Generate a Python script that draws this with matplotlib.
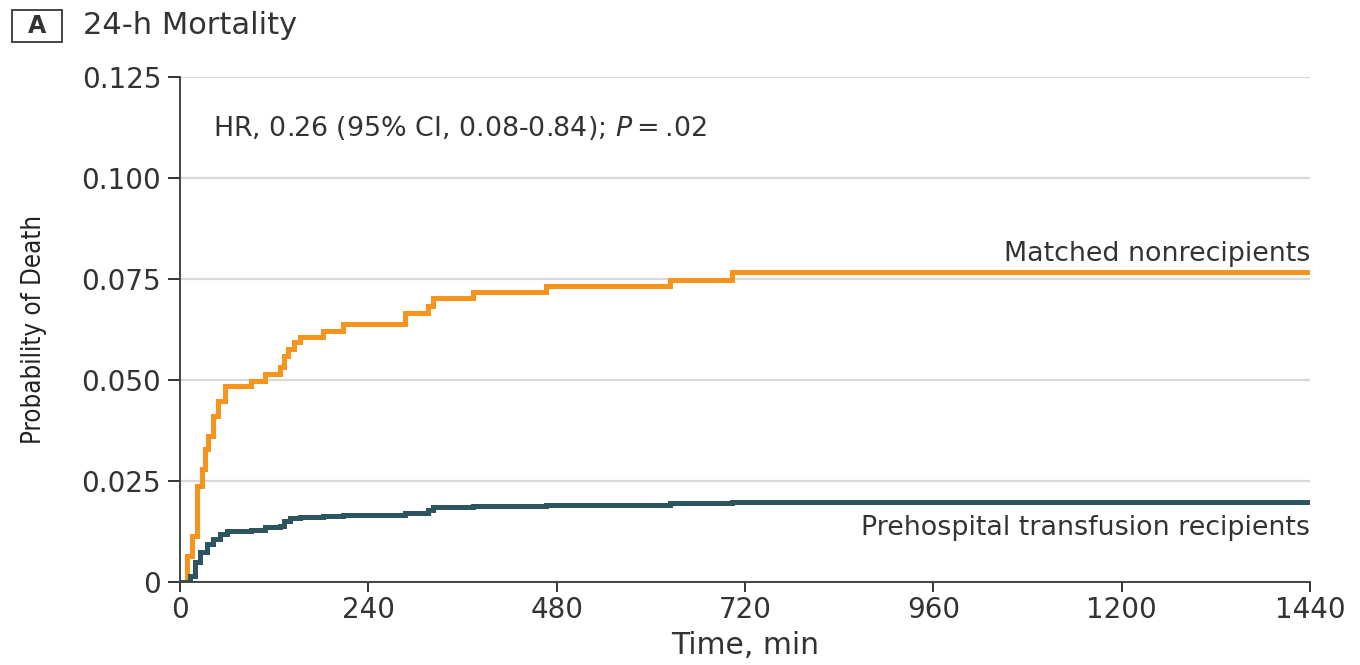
import matplotlib.pyplot as plt
from matplotlib import font_manager
from matplotlib.patches import Rectangle

# step times (min) and cumulative probability of death
t_nonrec = [0, 3, 8.5, 15, 21, 27.6, 31.8, 36, 42.5, 48.8, 57.3, 91, 108, 127, 133,
            138, 145, 153, 182.6, 208, 286.6, 316, 322.5, 373.5, 467, 624, 703, 1440]
p_nonrec = [0, 0, 0.0065, 0.0115, 0.0238, 0.028, 0.033, 0.0362, 0.041, 0.0449, 0.0486,
            0.0498, 0.0515, 0.0531, 0.056, 0.0577, 0.0593, 0.0606, 0.0622, 0.0639,
            0.0666, 0.0684, 0.0702, 0.0717, 0.0732, 0.0748, 0.0768, 0.0768]

t_recip = [0, 3, 12.7, 19, 25.5, 34, 42.5, 51, 59.4, 91, 108, 127, 133, 140, 153,
           182.6, 208, 286.6, 316, 322.5, 373.5, 467, 624, 703, 1440]
p_recip = [0, 0, 0.0016, 0.005, 0.0074, 0.0094, 0.0106, 0.0119, 0.0127, 0.0129,
           0.0135, 0.0139, 0.0152, 0.0158, 0.016, 0.0164, 0.0166, 0.0172, 0.0179,
           0.0185, 0.0189, 0.0191, 0.0195, 0.0199, 0.0199]

x_ticks = [0, 240, 480, 720, 960, 1200, 1440]
y_ticks = [0, 0.025, 0.050, 0.075, 0.100, 0.125]
y_labels = ["0", "0.025", "0.050", "0.075", "0.100", "0.125"]

orange = "#f7941d"
teal = "#2c5461"
txt = "#333333"
fs = 19.4

# a condensed face for the y label, if one is installed
narrow = None
for f in font_manager.fontManager.ttflist:
    if "Narrow" in f.name or "Condensed" in f.name:
        narrow = dict(family=f.name)
        break
    if f.name == "DejaVu Sans" and f.stretch == "condensed":
        narrow = dict(family="DejaVu Sans", stretch="condensed")
        break
ylab_fs = 18.5
if narrow is None:
    narrow = dict(family="DejaVu Sans")
    ylab_fs = 16

fig = plt.figure(figsize=(13.6, 6.65), dpi=100)
ax = fig.add_axes([0.1324, 0.1248, 0.8308, 0.7594])

ax.step(t_nonrec, p_nonrec, where="post", color=orange, lw=3.6, solid_joinstyle="miter")
ax.step(t_recip, p_recip, where="post", color=teal, lw=3.6, solid_joinstyle="miter")

ax.set_xlim(0, 1440)
ax.set_ylim(0, 0.125)
ax.set_xticks(x_ticks)
ax.set_yticks(y_ticks)
ax.set_yticklabels(y_labels)
ax.tick_params(axis="both", labelsize=20, colors=txt, direction="out", width=1.4)
ax.tick_params(axis="y", length=8.6, pad=5)
ax.tick_params(axis="x", length=7.2, pad=3)
ax.grid(axis="y", color="#d9d9d9", lw=1.6)
ax.set_axisbelow(True)
for s in ["top", "right"]:
    ax.spines[s].set_visible(False)
for s in ["left", "bottom"]:
    ax.spines[s].set_color("#444444")
    ax.spines[s].set_linewidth(1.4)

ax.set_xlabel("Time, min", fontsize=21.5, color=txt, labelpad=5)
ax.set_ylabel("Probability of Death", fontsize=ylab_fs, color="#222222", labelpad=25, **narrow)

ax.text(0.029, 0.899, "HR, 0.26 (95% CI, 0.08-0.84); $\\mathit{P}$\u2009=\u2009.02",
        transform=ax.transAxes, fontsize=fs, color=txt, va="center")
ax.text(1.0, 0.078, "Matched nonrecipients", ha="right", va="bottom",
        fontsize=fs, color=txt, transform=ax.get_yaxis_transform())
ax.text(1.0, 0.0167, "Prehospital transfusion recipients", ha="right", va="top",
        fontsize=fs, color=txt, transform=ax.get_yaxis_transform())

# panel letter box
fig.patches.append(Rectangle((0.0088, 0.9368), 0.0368, 0.0482, transform=fig.transFigure,
                             fc="white", ec="#444444", lw=1.4))
fig.text(0.0272, 0.961, "A", fontsize=17, fontweight="bold", color=txt, ha="center",
         va="center")
fig.text(0.061, 0.961, "24-h Mortality", fontsize=22, color=txt, ha="left", va="center")

fig.savefig("out.png", dpi=100)
